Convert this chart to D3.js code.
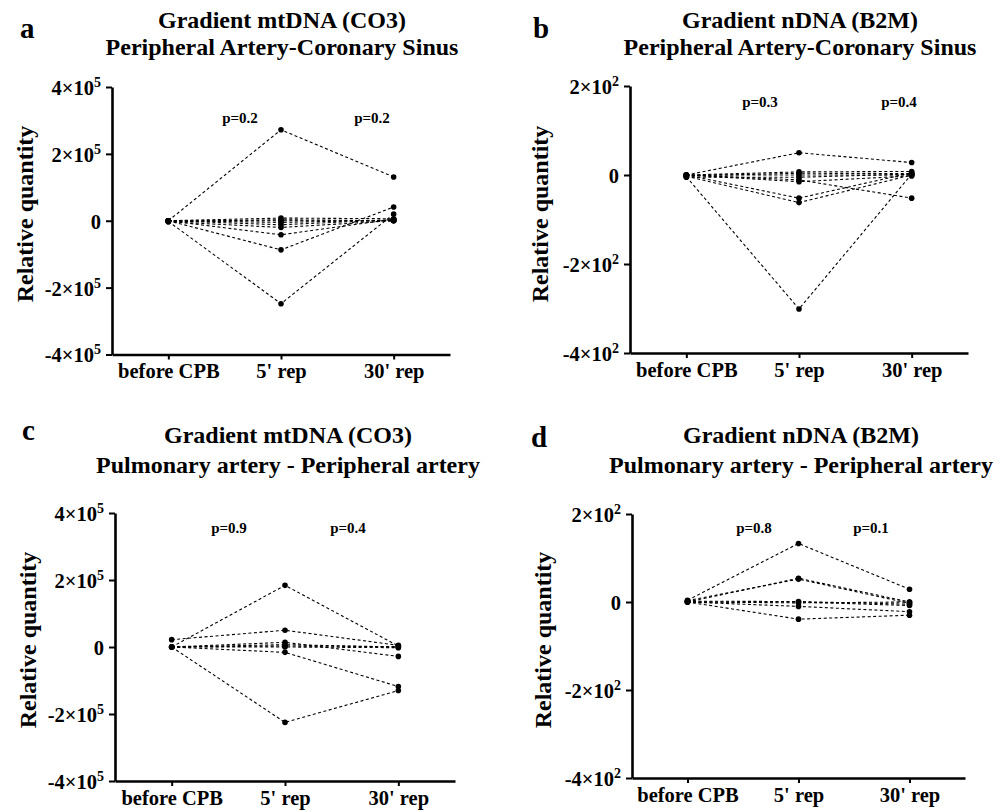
<!DOCTYPE html>
<html>
<head>
<meta charset="utf-8">
<script src="https://cdn.jsdelivr.net/npm/d3@7"></script>
<style>
  html, body { margin: 0; padding: 0; background: #fff; }
  svg { display: block; }
  text { font-family: "Liberation Serif", "Times New Roman", serif; font-weight: bold; fill: #000; }
</style>
</head>
<body>
<svg id="chart" width="1005" height="812"></svg>
<script>
// ---------------- DATA ----------------
const categories = ["before CPB", "5' rep", "30' rep"];

const panelLetters = ["a", "b", "c", "d"];
const titleLine1 = ["Gradient mtDNA (CO3)", "Gradient nDNA (B2M)", "Gradient mtDNA (CO3)", "Gradient nDNA (B2M)"];
const titleLine2 = ["Peripheral Artery-Coronary Sinus", "Peripheral Artery-Coronary Sinus",
                    "Pulmonary artery - Peripheral artery", "Pulmonary artery - Peripheral artery"];
const yAxisTitle = "Relative quantity";

const ticksMt = [-400000, -200000, 0, 200000, 400000];
const tickLabelsMt = ["-4×10^5", "-2×10^5", "0", "2×10^5", "4×10^5"];
const ticksN = [-400, -200, 0, 200];
const tickLabelsN = ["-4×10^2", "-2×10^2", "0", "2×10^2"];

const pValuesA = ["p=0.2", "p=0.2"];
const pValuesB = ["p=0.3", "p=0.4"];
const pValuesC = ["p=0.9", "p=0.4"];
const pValuesD = ["p=0.8", "p=0.1"];

// each row: one subject [before CPB, 5' rep, 30' rep]
const seriesA = [
  [0, 272000, 131000],
  [-2000, -248000, 20000],
  [0, -87000, 41000],
  [0, -42000, 5000],
  [-3000, -20000, 0],
  [0, -12000, 3000],
  [0, 8000, 6000],
  [-2000, 3000, 0],
  [0, -5000, 2000],
  [0, 0, 0]
];
const seriesB = [
  [0, 50, 28],
  [-4, -301, 2],
  [0, -52, 5],
  [-3, -62, 0],
  [0, -11, -52],
  [0, 7, 8],
  [-2, 4, 3],
  [0, -15, -2],
  [0, 0, 0],
  [-5, -5, 2]
];
const seriesC = [
  [0, 184000, 3000],
  [22000, 50000, 5000],
  [0, 14000, -28000],
  [0, 7000, 0],
  [0, 0, -2000],
  [0, -16000, -118000],
  [0, -225000, -130000],
  [0, 3000, 1000]
];
const seriesD = [
  [4, 133, 29],
  [0, 54, 0],
  [3, 52, -3],
  [0, 0, -8],
  [0, -2, 0],
  [0, -10, -22],
  [0, -39, -30],
  [2, 1, -5]
];

// ---------------- LAYOUT ----------------
const panels = [
  { series: seriesA, ticks: ticksMt, labels: tickLabelsMt, domain: [-400000, 400000], p: pValuesA,
    axisX: 112, xEnd: 450, yTop: 87, yBot: 354.5, titleX: 282, titleY: 28, titleGap: 27, letterX: 20, letterY: 38,
    yTitleX: 33, yTitleY: 214, pX: [240, 372], pY: 123 },
  { series: seriesB, ticks: ticksN, labels: tickLabelsN, domain: [-400, 200], p: pValuesB,
    axisX: 630, xEnd: 968, yTop: 86, yBot: 353, titleX: 800, titleY: 28, titleGap: 27, letterX: 533, letterY: 38,
    yTitleX: 548, yTitleY: 214, pX: [760, 899], pY: 107 },
  { series: seriesC, ticks: ticksMt, labels: tickLabelsMt, domain: [-400000, 400000], p: pValuesC,
    axisX: 115, xEnd: 455, yTop: 513, yBot: 781, titleX: 288, titleY: 443, titleGap: 30, letterX: 22, letterY: 440,
    yTitleX: 36, yTitleY: 640, pX: [229, 348], pY: 533 },
  { series: seriesD, ticks: ticksN, labels: tickLabelsN, domain: [-400, 200], p: pValuesD,
    axisX: 632, xEnd: 965, yTop: 514, yBot: 778, titleX: 801, titleY: 443, titleGap: 30, letterX: 531, letterY: 447,
    yTitleX: 551, yTitleY: 640, pX: [754, 871], pY: 533 }
];

const svg = d3.select("#chart");

function renderLabel(sel, str) {
  sel.text(null);
  const parts = str.split("^");
  sel.append("tspan").text(parts[0]);
  if (parts.length > 1) {
    sel.append("tspan").attr("dy", -8).attr("font-size", 14).text(parts[1]);
  }
}

panels.forEach((P, idx) => {
  const g = svg.append("g");
  const x = d3.scalePoint().domain(categories).range([P.axisX, P.xEnd]).padding(0.5);
  const y = d3.scaleLinear().domain(P.domain).range([P.yBot, P.yTop]);

  // panel letter
  g.append("text").attr("x", P.letterX).attr("y", P.letterY)
    .attr("font-size", 29).text(panelLetters[idx]);

  // titles
  g.append("text").attr("x", P.titleX).attr("y", P.titleY).attr("text-anchor", "middle")
    .attr("font-size", 24).text(titleLine1[idx]);
  g.append("text").attr("x", P.titleX).attr("y", P.titleY + P.titleGap).attr("text-anchor", "middle")
    .attr("font-size", 24).text(titleLine2[idx]);

  // y axis
  const yAxis = d3.axisLeft(y).tickValues(P.ticks).tickSize(6).tickSizeOuter(0).tickPadding(5)
    .tickFormat((d, i) => P.labels[i]);
  const yg = g.append("g").attr("transform", `translate(${P.axisX},0)`).call(yAxis);
  yg.select(".domain").attr("stroke", "#000").attr("stroke-width", 2.6);
  yg.selectAll(".tick line").attr("stroke", "#000").attr("stroke-width", 2);
  yg.selectAll(".tick text")
    .attr("font-size", 20.5).attr("font-family", null).attr("dy", "0.36em")
    .each(function(d, i) { renderLabel(d3.select(this), P.labels[i]); });

  // x axis
  const xAxis = d3.axisBottom(x).tickSize(5).tickSizeOuter(0).tickPadding(4);
  const xg = g.append("g").attr("transform", `translate(0,${P.yBot})`).call(xAxis);
  xg.select(".domain").attr("stroke", "#000").attr("stroke-width", 2.6);
  xg.selectAll(".tick line").attr("stroke", "#000").attr("stroke-width", 2);
  xg.selectAll(".tick text").attr("font-size", 20.5).attr("font-family", null).attr("dy", "0.71em");

  // y axis title
  g.append("text").attr("transform", `translate(${P.yTitleX},${P.yTitleY}) rotate(-90)`)
    .attr("text-anchor", "middle").attr("font-size", 24).text(yAxisTitle);

  // p-values
  g.selectAll(".pval").data(P.p).join("text").attr("class", "pval")
    .attr("x", (d, i) => P.pX[i]).attr("y", P.pY).attr("text-anchor", "middle")
    .attr("font-size", 15).text(d => d);

  // lines
  const line = d3.line().x((d, i) => x(categories[i])).y(d => y(d));
  g.selectAll(".subj").data(P.series).join("path").attr("class", "subj")
    .attr("d", line).attr("fill", "none").attr("stroke", "#000")
    .attr("stroke-width", 1.1).attr("stroke-dasharray", "3,2.5");

  // points
  const pts = [];
  P.series.forEach(s => s.forEach((v, i) => pts.push({ c: categories[i], v })));
  g.selectAll(".pt").data(pts).join("circle").attr("class", "pt")
    .attr("cx", d => x(d.c)).attr("cy", d => y(d.v)).attr("r", 2.8).attr("fill", "#000");
});
</script>
</body>
</html>
